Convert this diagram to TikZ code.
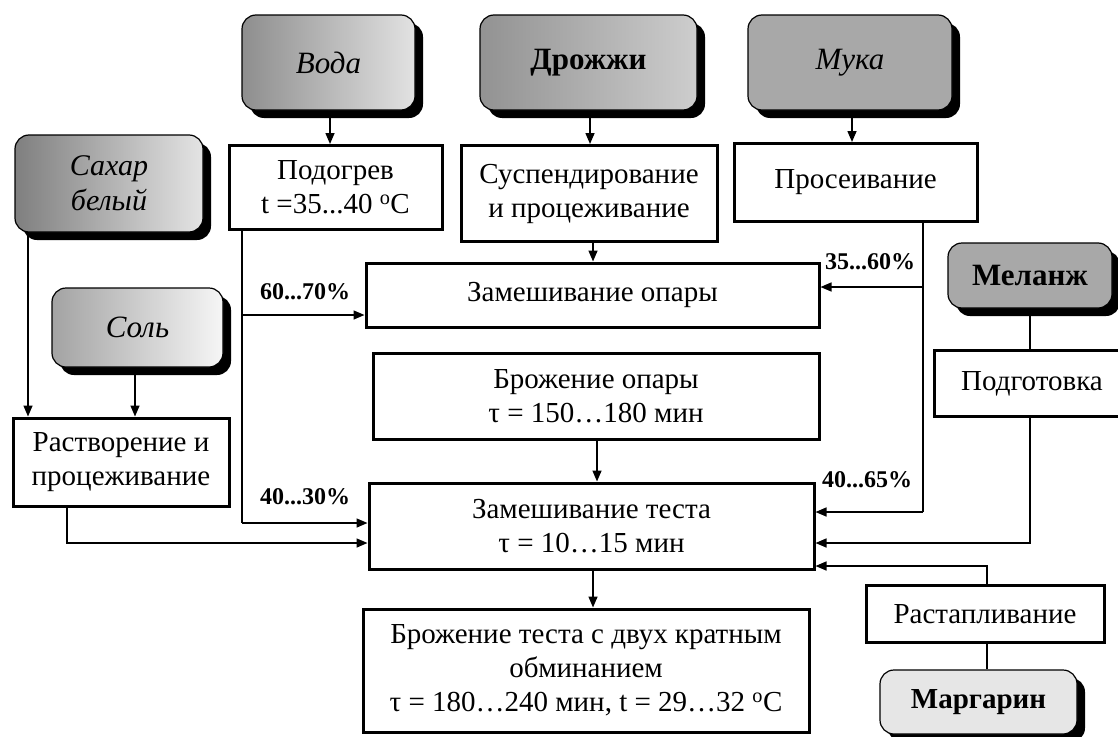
\documentclass[tikz,border=0pt]{standalone}
\usepackage{fontspec}
\setmainfont{Liberation Serif}
\usetikzlibrary{arrows.meta,shadows}
\definecolor{gDarkA}{HTML}{8E8E8E}
\definecolor{gLightA}{HTML}{E2E2E2}
\definecolor{gDarkB}{HTML}{7F7F7F}
\definecolor{gLightB}{HTML}{E4E4E4}
\definecolor{gDarkC}{HTML}{A3A3A3}
\definecolor{gLightC}{HTML}{F6F6F6}
\definecolor{gDarkD}{HTML}{929292}
\definecolor{gLightD}{HTML}{CDCDCD}
\definecolor{gFlat}{HTML}{A8A8A8}
\definecolor{gPale}{HTML}{E6E6E6}
\begin{document}
\begin{tikzpicture}[x=1pt,y=-1pt,
  base/.style={font=\fontsize{29}{34}\selectfont, align=center, inner sep=0pt},
  proc/.style={base, draw, line width=3pt, fill=white},
  src/.style={base, font=\fontsize{31}{36}\selectfont, draw, line width=1.2pt, rounded corners=14pt,
    drop shadow={shadow xshift=8pt, shadow yshift=-8pt, fill=black, opacity=1}},
  pct/.style={font=\fontsize{24}{26}\selectfont\bfseries, inner sep=0pt},
  ln/.style={line width=1.5pt},
  arr/.style={ln, -{Triangle[length=11pt,width=9pt]}}]
\useasboundingbox (0,0) rectangle (1118,736);
\clip (0,0) rectangle (1118,736);
\fill[white] (0,0) rectangle (1118,736);

% source (rounded, shadowed) boxes
\node[src, left color=gDarkA, right color=gLightA, minimum width=173pt, minimum height=95pt] (voda) at (328.5,62.5) {\itshape Вода};
\node[src, left color=gDarkD, right color=gLightD, minimum width=217pt, minimum height=95pt] (drozh) at (588.5,62.5) {\bfseries Дрожжи};
\node[src, fill=gFlat, minimum width=204pt, minimum height=95pt] (muka) at (850,62.5) {\itshape Мука};
\node[src, font=\fontsize{30}{35}\selectfont, left color=gDarkB, right color=gLightB, minimum width=188pt, minimum height=97pt] (sahar) at (109,183.5) {\itshape Сахар\\\itshape белый};
\node[src, left color=gDarkC, right color=gLightC, minimum width=171pt, minimum height=79pt] (sol) at (137.5,327.5) {\itshape Соль};
\node[src, fill=gFlat, minimum width=164pt, minimum height=65pt] (melanzh) at (1030,275.5) {\bfseries Меланж};
\node[src, font=\fontsize{29}{34}\selectfont, fill=gPale, minimum width=197pt, minimum height=64pt] (marg) at (978.5,702) {\bfseries Маргарин};

% process boxes
\node[proc, minimum width=213pt, minimum height=84pt] (podogrev) at (335.5,187.5) {Подогрев\\t =35...40 \textsuperscript{o}C};
\node[proc, minimum width=256pt, minimum height=96pt] (susp) at (589,193.5) {Суспендирование\\и процеживание};
\node[proc, minimum width=243pt, minimum height=78pt] (pros) at (855.5,182.5) {Просеивание};
\node[proc, minimum width=216pt, minimum height=88pt] (rastv) at (121,462) {Растворение и\\процеживание};
\node[proc, minimum width=453pt, minimum height=64pt] (zo) at (592.5,295) {Замешивание опары};
\node[proc, minimum width=446pt, minimum height=86pt] (bo) at (596,396) {Брожение опары\\τ = 150…180 мин};
\node[proc, minimum width=445pt, minimum height=86pt] (zt) at (591.5,526) {Замешивание теста\\τ = 10…15 мин};
\node[proc, minimum width=446pt, minimum height=123pt] (bt) at (586,670.5) {Брожение теста с двух кратным\\обминанием\\τ = 180…240 мин, t = 29…32 \textsuperscript{o}C};
\node[proc, minimum width=196pt, minimum height=66pt] (podg) at (1032,383.5) {Подготовка};
\node[proc, minimum width=238pt, minimum height=57pt] (rastap) at (985,614) {Растапливание};

% labels
\node[pct] (l1) at (305,292) {60...70\%};
\node[pct] (l2) at (305,497) {40...30\%};
\node[pct] (l3) at (870,262) {35...60\%};
\node[pct] (l4) at (867,480) {40...65\%};

% named branch points
\coordinate (wTop) at (242,230);
\coordinate (wMid) at (242,315);
\coordinate (wBot) at (242,523);
\coordinate (fTop) at (923,222);
\coordinate (fMid) at (923,287);
\coordinate (fBot) at (923,512);

% connectors
\draw[arr] (voda.south -| 330,0) -- (podogrev.north -| 330,0);
\draw[arr] (drozh.south -| 590,0) -- (susp.north -| 590,0);
\draw[arr] (muka.south -| 852,0) -- (pros.north -| 852,0);
\draw[arr] (sahar.south -| 28,0) -- (rastv.north -| 28,0);
\draw[arr] (sol.south -| 135,0) -- (rastv.north -| 135,0);
\draw[arr] (susp.south -| 593,0) -- (zo.north -| 593,0);
\draw[arr] (bo.south -| 597,0) -- (zt.north -| 597,0);
\draw[arr] (zt.south -| 593,0) -- (bt.north -| 593,0);

\draw[ln] (podogrev.south -| wTop) -- (wBot);
\draw[arr] (wMid) -- (zo.west |- wMid);
\draw[arr] (wBot) -- (zt.west |- wBot);
\draw[arr] (rastv.south -| 67,0) |- (zt.west |- 0,543);

\draw[ln] (pros.south -| fTop) -- (fBot);
\draw[arr] (fMid) -- (zo.east |- fMid);
\draw[arr] (fBot) -- (zt.east |- fBot);

\draw[ln] (melanzh.south -| 1030,0) -- (podg.north -| 1030,0);
\draw[arr] (podg.south -| 1030,0) |- (zt.east |- 0,543);
\draw[ln] (marg.north -| 987,0) -- (rastap.south -| 987,0);
\draw[arr] (rastap.north -| 987,0) |- (zt.east |- 0,566);
\end{tikzpicture}
\end{document}
